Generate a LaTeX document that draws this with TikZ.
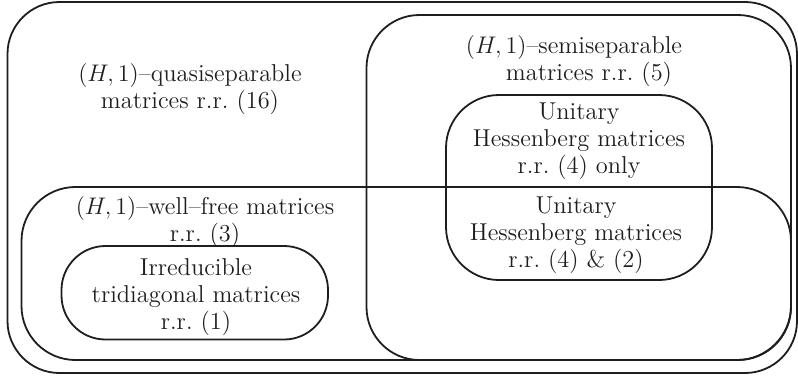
\documentclass[tikz,border=0pt]{standalone}
\usepackage{amsmath,amssymb}
\usepackage{xcolor}
\usepackage{tikz}
\usetikzlibrary{positioning,calc}
\definecolor{setInk}{HTML}{1E1E1E}

\begin{document}
\begin{tikzpicture}[
  x=0.5pt,y=-0.5pt,
  font=\fontsize{12.2pt}{13.5pt}\selectfont,
  setbox/.style={draw=setInk,line width=0.9pt},
  lbl/.style={text=setInk,align=center,inner sep=0pt}
]
\useasboundingbox (0,0) rectangle (798,376);

% Sets (rounded boxes)
\draw[setbox,rounded corners=26pt]   (7.5,2)   rectangle (797,373);   % quasiseparable
\draw[setbox,rounded corners=26.5pt] (366.5,15) rectangle (791,360);  % semiseparable
\draw[setbox,rounded corners=27pt]   (21.5,187) rectangle (791,360);  % well-free
\draw[setbox,rounded corners=26.5pt] (446,95)  rectangle (712,280);   % unitary Hessenberg
\draw[setbox,rounded corners=22pt]   (61.5,246) rectangle (328,339.5);% tridiagonal

% Labels
\node[lbl] (quasi) at (190,89)
  {$(H,1)$--quasiseparable\\matrices r.r.\ (16)};
\node[lbl] (semi)  at (574,61.5)
  {$(H,1)$--semiseparable\\\hspace*{15pt}matrices r.r.\ (5)};
\node[lbl] (unitop) at (579,141)
  {Unitary\\Hessenberg matrices\\r.r.\ (4) only};
\node[lbl] (unibot) at (576,235)
  {Unitary\\Hessenberg matrices\\r.r.\ (4) \& (2)};
\node[lbl] (well)  at (205,222)
  {$(H,1)$--well--free matrices\\r.r.\ (3)};
\node[lbl] (tridiag) at (196,297)
  {Irreducible\\tridiagonal matrices\\r.r.\ (1)};
\end{tikzpicture}
\end{document}
